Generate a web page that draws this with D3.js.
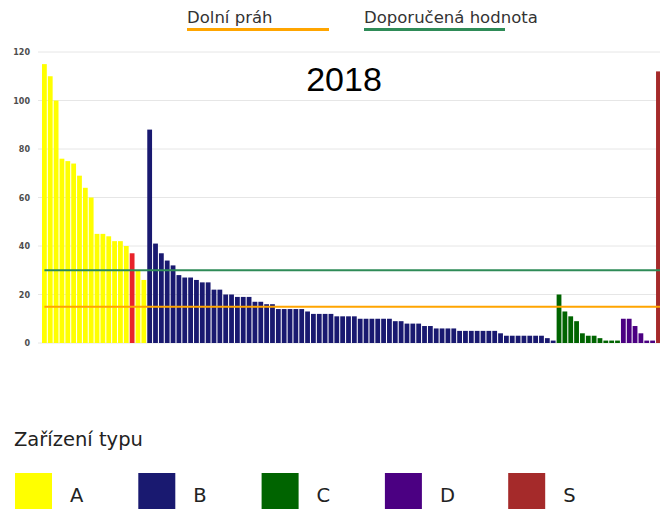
<!DOCTYPE html>
<html>
<head>
<meta charset="utf-8">
<script src="https://cdn.jsdelivr.net/npm/d3@7"></script>
<style>
  html, body { margin: 0; padding: 0; background: #ffffff; overflow: hidden; }
  svg { display: block; }
</style>
</head>
<body>
<svg id="chart" width="660" height="509"></svg>
<script>
// ---- Data ----
const title = "2018";
const typeNames = ["A", "B", "C", "D", "S"];
const valuesA = [115, 110, 100, 76, 75, 74, 69, 64, 60, 45, 45, 44, 42, 42, 40, 37, 30, 26];
const highlightedA = [15];
const valuesB = [88, 41, 37, 34, 32, 28, 27, 27, 26, 25, 25, 22, 22, 20, 20, 19, 19, 19, 17, 17, 16, 16,
  14, 14, 14, 14, 14, 13, 12, 12, 12, 12, 11, 11, 11, 11, 10, 10, 10, 10, 10, 10, 9, 9, 8, 8, 8, 7, 7,
  6, 6, 6, 6, 5, 5, 5, 5, 5, 5, 5, 4, 3, 3, 3, 3, 3, 3, 3, 2, 1];
const valuesC = [20, 13, 11, 9, 4, 3, 3, 2, 1, 1, 1];
const valuesD = [10, 10, 7, 4, 1, 1];
const valuesS = [112];
const thresholdNames = ["Dolní práh", "Doporučená hodnota"];
const thresholdValues = [15, 30];
const yTicks = [0, 20, 40, 60, 80, 100, 120];
const legendTitle = "Zařízení typu";

// ---- Styles ----
const typeColors = { A: "#ffff00", B: "#191970", C: "#006400", D: "#4b0082", S: "#a52a2a" };
const highlightColor = "#e8232a";
const thresholdColors = ["#ffa500", "#2e8b57"];

// ---- Build rows ----
const groups = [["A", valuesA], ["B", valuesB], ["C", valuesC], ["D", valuesD], ["S", valuesS]];
const rows = [];
groups.forEach(([t, vals]) => vals.forEach((v, i) => {
  rows.push({ id: t + (i + 1), type: t, value: v, highlight: t === "A" && highlightedA.includes(i) });
}));

const svg = d3.select("#chart");
const font = "'DejaVu Sans', sans-serif";

const step = 5.848;
const pad = 0.18;
const x0 = 42;
const x = d3.scaleBand()
  .domain(rows.map(d => d.id))
  .range([x0, x0 + step * (rows.length - pad)])
  .paddingInner(pad)
  .paddingOuter(0);

const y = d3.scaleLinear().domain([0, 120]).range([343, 52]);

// gridlines
svg.append("g").selectAll("line").data(yTicks).join("line")
  .attr("x1", 38).attr("x2", 660)
  .attr("y1", d => y(d)).attr("y2", d => y(d))
  .attr("stroke", "#e6e6e6").attr("stroke-width", 1);

// y axis labels
const yAxis = d3.axisLeft(y).tickValues(yTicks).tickSize(0).tickPadding(0);
const ga = svg.append("g").attr("transform", "translate(30,0)").call(yAxis);
ga.select(".domain").remove();
ga.selectAll("text")
  .attr("font-family", font).attr("font-weight", "bold")
  .attr("font-size", "8px").attr("fill", "#4d4d4d");

// title
svg.append("text").attr("x", 344).attr("y", 91).attr("text-anchor", "middle")
  .attr("font-family", "'Liberation Sans', Arial, sans-serif").attr("font-size", "34px")
  .attr("fill", "#000").text(title);

// bars
svg.append("g").selectAll("rect").data(rows).join("rect")
  .attr("x", d => x(d.id))
  .attr("y", d => y(d.value))
  .attr("width", x.bandwidth())
  .attr("height", d => y(0) - y(d.value))
  .attr("fill", d => d.highlight ? highlightColor : typeColors[d.type]);

// threshold lines
const lx1 = x(rows[0].id) + x.bandwidth() / 2;
const lx2 = 662;
svg.append("g").selectAll("line").data(thresholdValues).join("line")
  .attr("x1", lx1).attr("x2", lx2)
  .attr("y1", d => y(d)).attr("y2", d => y(d))
  .attr("stroke", (d, i) => thresholdColors[i]).attr("stroke-width", 2);

// top legend
const topLegendX = [187, 364];
const topLegendW = [142, 141];
thresholdNames.forEach((name, i) => {
  svg.append("text").attr("x", topLegendX[i]).attr("y", 23)
    .attr("font-family", font).attr("font-size", "16.5px").attr("fill", "#333").text(name);
  svg.append("rect").attr("x", topLegendX[i]).attr("y", 28)
    .attr("width", topLegendW[i]).attr("height", 3).attr("fill", thresholdColors[i]);
});

// bottom legend
svg.append("text").attr("x", 14).attr("y", 446)
  .attr("font-family", font).attr("font-size", "19.5px").attr("fill", "#222").text(legendTitle);

typeNames.forEach((t, i) => {
  const lx = 15 + i * 123.3;
  svg.append("rect").attr("x", lx).attr("y", 473).attr("width", 37).attr("height", 37)
    .attr("fill", typeColors[t]);
  svg.append("text").attr("x", lx + 55).attr("y", 502)
    .attr("font-family", font).attr("font-size", "19.5px").attr("fill", "#222").text(t);
});
</script>
</body>
</html>
